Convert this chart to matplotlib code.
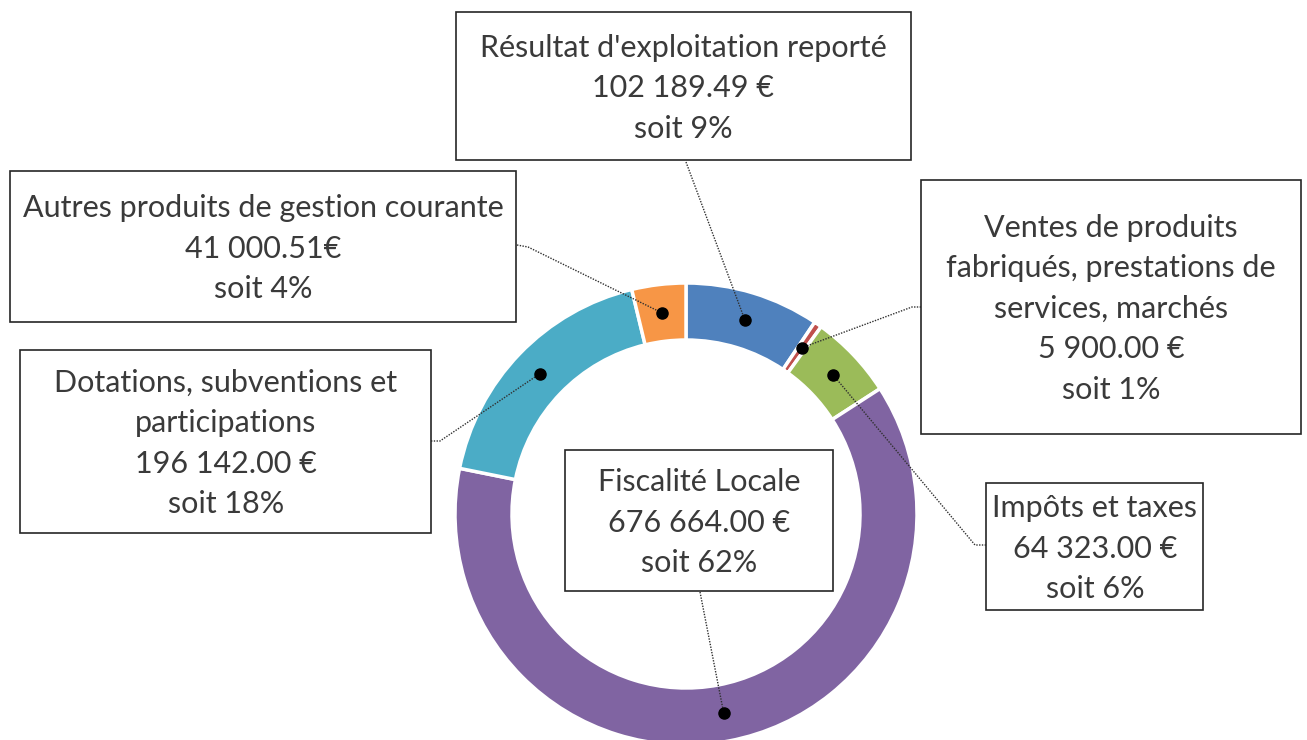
import matplotlib
matplotlib.use("Agg")
import matplotlib.pyplot as plt
from matplotlib.patches import Rectangle
import numpy as np

# ---- data ----
categories = [
    "Résultat d'exploitation reporté",
    "Ventes de produits\nfabriqués, prestations de\nservices, marchés",
    "Impôts et taxes",
    "Fiscalité Locale",
    "Dotations, subventions et\nparticipations",
    "Autres produits de gestion courante",
]
values = [102189.49, 5900.00, 64323.00, 676664.00, 196142.00, 41000.51]
value_labels = ["102 189.49 €", "5 900.00 €", "64 323.00 €", "676 664.00 €",
                "196 142.00 €", "41 000.51€"]
colors = ["#4F81BD", "#C0504D", "#9BBB59", "#8064A2", "#4BACC6", "#F79646"]

# ---- layout (pixel coordinates, y downward converted) ----
W, H = 1307, 740
fig = plt.figure(figsize=(W / 100, H / 100), dpi=100)
ax = fig.add_axes([0, 0, 1, 1])

cx, cy_pix = 686, 514
R, ring = 231, 57

def Y(yp):
    return H - yp

wedges, _ = ax.pie(values, colors=colors, startangle=90, counterclock=False,
                   radius=R, center=(cx, Y(cy_pix)),
                   wedgeprops=dict(width=ring, edgecolor="white", linewidth=2.5))

ax.set_xlim(0, W)
ax.set_ylim(0, H)
ax.set_aspect("equal")
ax.axis("off")

# label boxes: (x0, y0, x1, y1) in pixel coords (y down), text center x, leader start points
boxes = [
    ((456, 12, 911, 160), 683, [(686, 162)]),
    ((921, 180, 1301, 434), 1111, [(921, 307), (912, 307)]),
    ((986, 483, 1203, 610), 1095, [(986, 545), (975, 545)]),
    ((565, 450, 833, 591), 699, [(700, 592)]),
    ((20, 350, 431, 533), 226, [(431, 441), (440, 441)]),
    ((10, 171, 516, 322), 263, [(517, 245), (528, 247)]),
]

total = sum(values)
fs = 22
txtcol = "#3a3a3a"
mid_r = R - ring / 2
for w, cat, vl, val, (box, tx, leader) in zip(wedges, categories, value_labels, values, boxes):
    x0, y0, x1, y1 = box
    ax.add_patch(Rectangle((x0, Y(y1)), x1 - x0, y1 - y0, facecolor="white",
                           edgecolor="#262626", linewidth=1.2, zorder=3))
    pct = round(val / total * 100)
    lines = cat.split("\n") + [vl, f"soit {pct}%"]
    n = len(lines)
    yc = (y0 + y1) / 2 + 2
    for i, ln in enumerate(lines):
        yy = yc + (i - (n - 1) / 2) * 40.5
        ax.text(tx, Y(yy), ln, ha="center", va="center", fontsize=fs,
                color=txtcol, family="Lato", zorder=4)
    ang = np.deg2rad((w.theta1 + w.theta2) / 2)
    dx = cx + mid_r * np.cos(ang)
    dy = Y(cy_pix) + mid_r * np.sin(ang)
    xs = [p[0] for p in leader] + [dx]
    ys = [Y(p[1]) for p in leader] + [dy]
    ax.plot(xs, ys, color="#303030", linestyle=(0, (1, 1)), linewidth=1.0, zorder=2)
    ax.plot([dx], [dy], "o", color="black", markersize=8, zorder=5)

fig.savefig("out.png", dpi=100)
